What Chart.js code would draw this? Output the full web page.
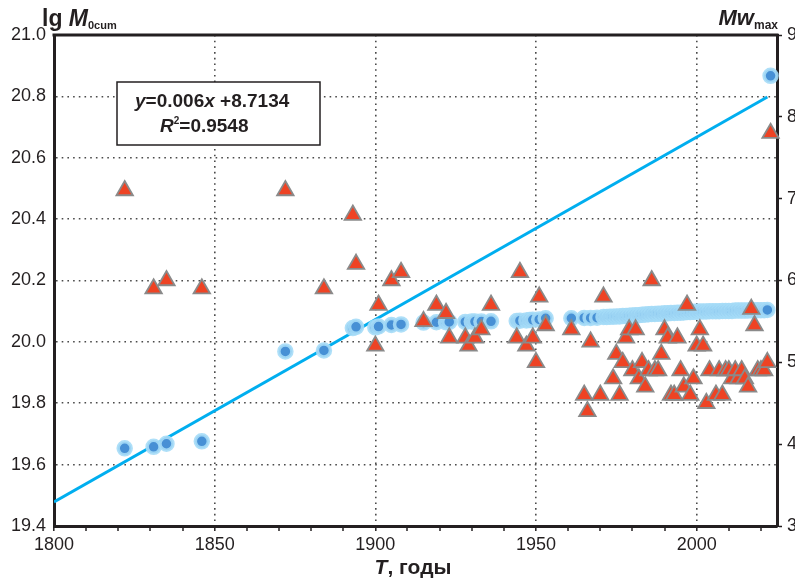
<!DOCTYPE html>
<html>
<head>
<meta charset="utf-8">
<script src="https://cdn.jsdelivr.net/npm/chart.js@4"></script>
<style>
  html, body { margin: 0; padding: 0; background: #fff; }
  #wrap { width: 795px; height: 579px; }
</style>
</head>
<body>
<div id="wrap"><canvas id="chart" width="795" height="579"></canvas></div>
<script>
  // --- данные ---
  // накопленный сейсмический момент, lg M0cum (левая ось)
  const yearsM0 = [1822, 1831, 1835, 1846, 1872, 1884, 1893, 1894, 1900, 1901, 1905, 1908,
    1915, 1919, 1922, 1923, 1928, 1930, 1931, 1933, 1936, 1944, 1945, 1947, 1948, 1949, 1951, 1953,
    1961, 1965, 1967, 1969,
    1971, 1972, 1973, 1974, 1975, 1976, 1977, 1978, 1979, 1980, 1981, 1982, 1983, 1984, 1985, 1986,
    1987, 1988, 1989, 1990, 1991, 1992, 1993, 1994, 1995, 1996, 1997, 1998, 1999, 2000, 2001, 2002,
    2003, 2004, 2005, 2006, 2007, 2008, 2009, 2010, 2011, 2012, 2013, 2014, 2015, 2016, 2017, 2018,
    2019, 2020, 2021, 2022, 2023];
  const lgM0 = [19.653, 19.658, 19.668, 19.676, 19.969, 19.972, 20.045, 20.049, 20.047, 20.050, 20.055, 20.057,
    20.063, 20.064, 20.064, 20.065, 20.065, 20.066, 20.066, 20.066, 20.067, 20.068, 20.069, 20.070, 20.071, 20.072, 20.073, 20.077,
    20.077, 20.078, 20.078, 20.079,
    20.081, 20.081, 20.082, 20.082, 20.083, 20.083, 20.084, 20.084, 20.085, 20.086, 20.087, 20.087, 20.088, 20.089, 20.090, 20.091,
    20.091, 20.092, 20.092, 20.093, 20.093, 20.094, 20.094, 20.095, 20.095, 20.096, 20.097, 20.097, 20.098, 20.098, 20.099, 20.099,
    20.099, 20.100, 20.100, 20.100, 20.100, 20.101, 20.101, 20.101, 20.101, 20.102, 20.102, 20.102, 20.102, 20.102, 20.103, 20.103,
    20.103, 20.103, 20.103, 20.104, 20.867];

  // максимальная магнитуда Mw за год (правая ось)
  const yearsMw = [1822, 1831, 1835, 1846, 1872, 1884, 1893, 1894, 1900, 1901, 1905, 1908,
    1915, 1919, 1922, 1923, 1928, 1929, 1931, 1933, 1936, 1944, 1945, 1947, 1949, 1950, 1951, 1953,
    1961, 1965, 1966, 1967, 1970, 1971, 1974, 1975, 1976, 1977, 1978, 1979, 1980, 1981, 1982, 1983,
    1984, 1985, 1986, 1987, 1988, 1989, 1990, 1991, 1992, 1993, 1994, 1995, 1996, 1997, 1998, 1999,
    2000, 2001, 2002, 2003, 2004, 2006, 2007, 2008, 2009, 2010, 2011, 2012, 2013, 2014, 2015, 2016,
    2017, 2018, 2019, 2020, 2021, 2022, 2023];
  const mwMax = [7.1, 5.9, 6.0, 5.9, 7.1, 5.9, 6.8, 6.2, 5.2, 5.7, 6.0, 6.1,
    5.5, 5.7, 5.6, 5.3, 5.3, 5.2, 5.3, 5.4, 5.7, 5.3, 6.1, 5.2, 5.3, 5.0, 5.8, 5.45,
    5.4, 4.6, 4.4, 5.25, 4.6, 5.8, 4.8, 5.1, 4.6, 5.0, 5.3, 5.4, 4.9, 5.4, 4.8, 5.0,
    4.7, 4.9, 6.0, 4.9, 4.9, 5.1, 5.4, 5.3, 4.6, 4.6, 5.3, 4.9, 4.7, 5.7, 4.6, 4.8,
    5.2, 5.4, 5.2, 4.5, 4.9, 4.6, 4.9, 4.6, 4.9, 4.9, 4.8, 4.9, 4.8, 4.9, 4.8, 4.7,
    5.65, 5.45, 4.9, 4.9, 4.9, 5.0, 7.8];

  // линия тренда y = 0.006x + 8.7134 (концы, как на рисунке)
  const trendYears = [1800, 2022];
  const trendVals = [19.478, 20.798];

  const xLabelYears = [1800, 1850, 1900, 1950, 2000];

  const INK = '#231f20';
  const GRID = '#4a4a4a';
  const FONT = '"Liberation Sans", Arial, sans-serif';

  // рисует строку из кусочков разного шрифта, возвращает ширину
  function richText(ctx, x, y, parts, measureOnly) {
    let cx = x;
    parts.forEach(p => {
      ctx.font = p.font;
      if (!measureOnly) ctx.fillText(p.t, cx, y + (p.dy || 0));
      cx += ctx.measureText(p.t).width;
    });
    return cx - x;
  }

  const decorPlugin = {
    id: 'decor',
    afterDraw(chart) {
      const ctx = chart.ctx;
      const a = chart.chartArea;
      ctx.save();
      // верхняя рамка
      ctx.strokeStyle = INK;
      ctx.lineWidth = 3;
      ctx.beginPath();
      ctx.moveTo(a.left - 1.5, a.top);
      ctx.lineTo(a.right + 1.5, a.top);
      ctx.stroke();

      ctx.fillStyle = INK;
      ctx.textBaseline = 'alphabetic';
      ctx.textAlign = 'left';

      // подписи осей
      richText(ctx, 42, 26, [
        { t: 'lg ', font: 'bold 23px ' + FONT },
        { t: 'M', font: 'italic bold 23px ' + FONT },
        { t: '0cum', font: 'bold 11px ' + FONT, dy: 3 }
      ]);
      const rParts = [
        { t: 'Mw', font: 'italic bold 22px ' + FONT },
        { t: 'max', font: 'bold 12px ' + FONT, dy: 4 }
      ];
      const rw = richText(ctx, 0, 0, rParts, true);
      richText(ctx, 778 - rw, 25, rParts);

      const bParts = [
        { t: 'T', font: 'italic bold 21px ' + FONT },
        { t: ', годы', font: 'bold 21px ' + FONT }
      ];
      const bw = richText(ctx, 0, 0, bParts, true);
      richText(ctx, 413 - bw / 2, 574, bParts);

      // рамка с уравнением
      ctx.fillStyle = '#fff';
      ctx.fillRect(117, 82, 203, 63);
      ctx.strokeStyle = INK;
      ctx.lineWidth = 1.5;
      ctx.strokeRect(117, 82, 203, 63);
      ctx.fillStyle = INK;
      richText(ctx, 135, 107, [
        { t: 'y', font: 'italic bold 19px ' + FONT },
        { t: '=0.006', font: 'bold 19px ' + FONT },
        { t: 'x', font: 'italic bold 19px ' + FONT },
        { t: ' +8.7134', font: 'bold 19px ' + FONT }
      ]);
      richText(ctx, 160, 132, [
        { t: 'R', font: 'italic bold 19px ' + FONT },
        { t: '2', font: 'bold 10px ' + FONT, dy: -8 },
        { t: '=0.9548', font: 'bold 19px ' + FONT }
      ]);
      ctx.restore();
    }
  };

  const tickFont = { family: FONT, size: 18 };

  new Chart(document.getElementById('chart'), {
    type: 'scatter',
    data: {
      datasets: [
        {
          type: 'line',
          data: trendYears.map((x, i) => ({ x, y: trendVals[i] })),
          borderColor: '#00aeef',
          borderWidth: 3,
          pointRadius: 0,
          fill: false,
          yAxisID: 'y',
          order: 3
        },
        {
          data: yearsM0.map((x, i) => ({ x, y: lgM0[i] })),
          yAxisID: 'y',
          pointRadius: 6.5,
          borderWidth: 3.5,
          backgroundColor: '#4790d5',
          borderColor: 'rgba(165,219,247,0.9)',
          clip: false,
          order: 2
        },
        {
          data: yearsMw.map((x, i) => ({ x, y: mwMax[i] })),
          yAxisID: 'y2',
          pointStyle: 'triangle',
          pointRadius: 9.5,
          borderWidth: 1.8,
          backgroundColor: '#ee4324',
          borderColor: '#8a8a8a',
          clip: false,
          order: 1
        }
      ]
    },
    options: {
      responsive: false,
      animation: false,
      layout: { padding: { top: 35, left: 0, right: 0, bottom: 0 } },
      plugins: { legend: { display: false }, tooltip: { enabled: false } },
      scales: {
        x: {
          type: 'linear',
          position: 'bottom',
          min: 1800,
          max: 2025,
          afterFit: s => { s.height = 53; },
          ticks: {
            stepSize: 10,
            includeBounds: false,
            autoSkip: false,
            maxRotation: 0,
            padding: 3,
            color: INK,
            font: tickFont,
            callback: v => xLabelYears.includes(v) ? String(v) : ''
          },
          grid: {
            color: GRID,
            lineWidth: c => (c.tick && c.tick.value % 50 === 0) ? 1.6 : 0,
            tickColor: INK,
            tickWidth: 1.5,
            tickLength: 5
          },
          border: { color: INK, width: 3, dash: [1.6, 4.1] }
        },
        y: {
          position: 'left',
          min: 19.4,
          max: 21.0,
          afterFit: s => { s.width = 54; },
          ticks: {
            stepSize: 0.2,
            padding: 8,
            color: INK,
            font: tickFont,
            callback: v => v.toFixed(1)
          },
          grid: { color: GRID, lineWidth: 1.6, drawTicks: false },
          border: { color: INK, width: 3, dash: [1.6, 4.1] }
        },
        y2: {
          position: 'right',
          min: 3,
          max: 9,
          afterFit: s => { s.width = 18; },
          ticks: { stepSize: 1, padding: 5, color: INK, font: tickFont },
          grid: {
            drawOnChartArea: false,
            color: INK,
            tickColor: INK,
            tickWidth: 1.5,
            tickLength: 5
          },
          border: { color: INK, width: 3 }
        }
      }
    },
    plugins: [decorPlugin]
  });
</script>
</body>
</html>
